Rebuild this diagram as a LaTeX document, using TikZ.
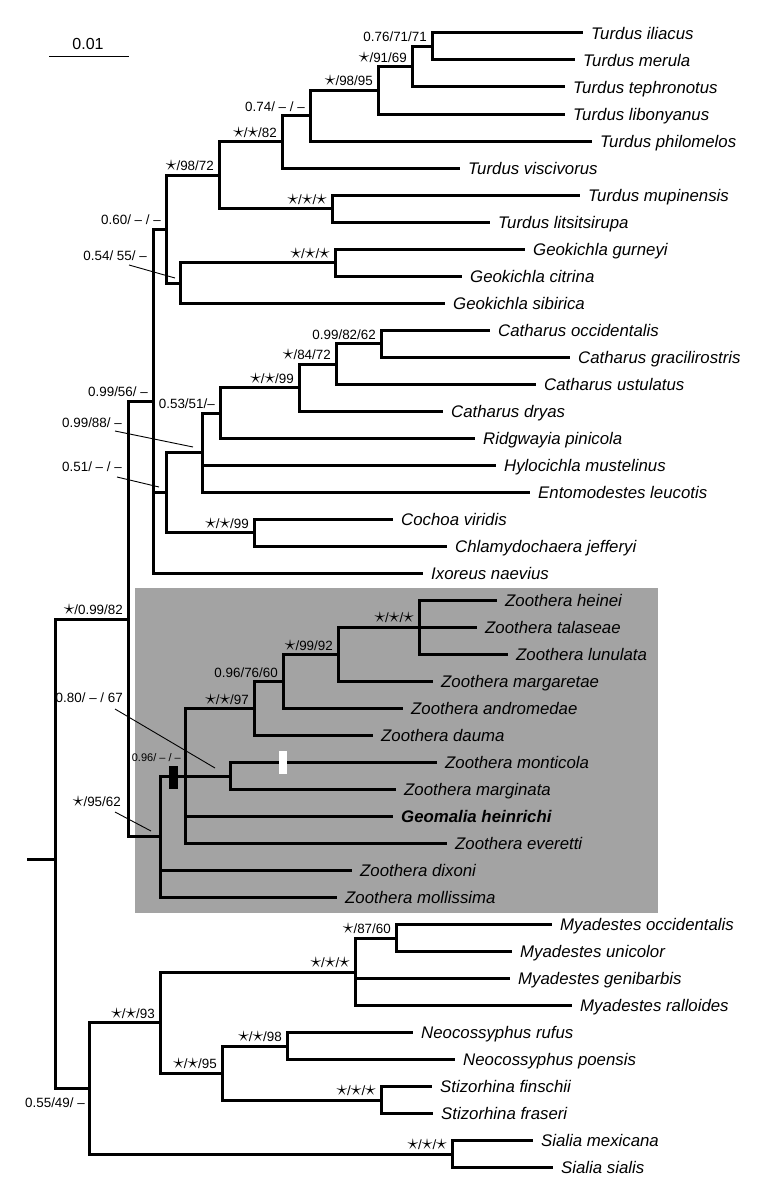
\documentclass[tikz,border=0pt]{standalone}
\usepackage{fontspec}
\setmainfont{Liberation Sans}
\definecolor{boxgray}{RGB}{163,163,163}
\newcommand{\bst}{\scalebox{1.5}{$\star$}}
\begin{document}
\begin{tikzpicture}
[x=1pt, y=-1pt,
 br/.style={line width=3pt},
 lead/.style={line width=0.9pt},
 leaf/.style={anchor=west, inner xsep=8pt, inner ysep=0pt, text height=12.2pt,
   text depth=0pt, font=\fontsize{16.8}{19}\selectfont\itshape},
 sup/.style={anchor=base east, inner sep=0pt, font=\fontsize{13.4}{15}\selectfont},
 bar/.style={minimum width=9pt, minimum height=23pt, inner sep=0pt}]
\useasboundingbox (0,0) rectangle (761,1182);
% shaded Zoothera clade
\fill[boxgray] (135,588) rectangle (658,913);
% scale
\coordinate (sb0) at (49,56);
\coordinate (sb1) at (129,56);
\draw[line width=0.9pt] (sb0) -- (sb1);
\node[anchor=base, font=\fontsize{16}{18}\selectfont] (scl) at (88,49.3) {0.01};
% tips
\node[leaf] (iliacus) at (583,33) {Turdus iliacus};
\node[leaf] (merula) at (575,60) {Turdus merula};
\node[leaf] (tephronotus) at (565,87) {Turdus tephronotus};
\node[leaf] (libonyanus) at (565,114.1) {Turdus libonyanus};
\node[leaf] (philomelos) at (592,141.1) {Turdus philomelos};
\node[leaf] (viscivorus) at (460,168.1) {Turdus viscivorus};
\node[leaf] (mupinensis) at (580,195.1) {Turdus mupinensis};
\node[leaf] (litsitsirupa) at (490,222.1) {Turdus litsitsirupa};
\node[leaf] (gurneyi) at (525,249.2) {Geokichla gurneyi};
\node[leaf] (citrina) at (462,276.2) {Geokichla citrina};
\node[leaf] (sibirica) at (445,303.2) {Geokichla sibirica};
\node[leaf] (catOcc) at (490,330.2) {Catharus occidentalis};
\node[leaf] (gracilirostris) at (570,357.2) {Catharus gracilirostris};
\node[leaf] (ustulatus) at (536,384.3) {Catharus ustulatus};
\node[leaf] (dryas) at (443,411.3) {Catharus dryas};
\node[leaf] (pinicola) at (475,438.3) {Ridgwayia pinicola};
\node[leaf] (mustelinus) at (496,465.3) {Hylocichla mustelinus};
\node[leaf] (leucotis) at (530,492.3) {Entomodestes leucotis};
\node[leaf] (viridis) at (393,519.4) {Cochoa viridis};
\node[leaf] (jefferyi) at (447,546.4) {Chlamydochaera jefferyi};
\node[leaf] (naevius) at (423,573.4) {Ixoreus naevius};
\node[leaf] (heinei) at (497,600.4) {Zoothera heinei};
\node[leaf] (talaseae) at (477,627.4) {Zoothera talaseae};
\node[leaf] (lunulata) at (508,654.5) {Zoothera lunulata};
\node[leaf] (margaretae) at (433,681.5) {Zoothera margaretae};
\node[leaf] (andromedae) at (403,708.5) {Zoothera andromedae};
\node[leaf] (dauma) at (373,735.5) {Zoothera dauma};
\node[leaf] (monticola) at (437,762.5) {Zoothera monticola};
\node[leaf] (marginata) at (396,789.6) {Zoothera marginata};
\node[leaf] (heinrichi) at (393,816.6) {\bfseries Geomalia heinrichi};
\node[leaf] (everetti) at (447,843.6) {Zoothera everetti};
\node[leaf] (dixoni) at (352,870.6) {Zoothera dixoni};
\node[leaf] (mollissima) at (337,897.6) {Zoothera mollissima};
\node[leaf] (myaOcc) at (552,924.7) {Myadestes occidentalis};
\node[leaf] (unicolor) at (512,951.7) {Myadestes unicolor};
\node[leaf] (genibarbis) at (510,978.7) {Myadestes genibarbis};
\node[leaf] (ralloides) at (572,1005.7) {Myadestes ralloides};
\node[leaf] (rufus) at (413,1032.7) {Neocossyphus rufus};
\node[leaf] (poensis) at (455,1059.8) {Neocossyphus poensis};
\node[leaf] (finschii) at (432,1086.8) {Stizorhina finschii};
\node[leaf] (fraseri) at (433,1113.8) {Stizorhina fraseri};
\node[leaf] (mexicana) at (533,1140.8) {Sialia mexicana};
\node[leaf] (sialis) at (553,1167.8) {Sialia sialis};
% internal nodes
\coordinate (T1) at (432,46.5);
\coordinate (T2) at (412,66.8);
\coordinate (T3) at (378,90.4);
\coordinate (T4) at (310,115.8);
\coordinate (T5) at (282,141.9);
\coordinate (T7) at (332,208.6);
\coordinate (T6) at (219,175.3);
\coordinate (G1) at (335,262.7);
\coordinate (G) at (180,283);
\coordinate (T8) at (166,229.1);
\coordinate (C5) at (381,343.7);
\coordinate (C4) at (336,364);
\coordinate (C3) at (299,387.7);
\coordinate (C2) at (220,413);
\coordinate (C1) at (202,452.6);
\coordinate (Co) at (254,532.9);
\coordinate (C0) at (166,492.8);
\coordinate (N1) at (153,401.3);
\coordinate (Z6) at (419,627.4);
\coordinate (Z5) at (338,654.5);
\coordinate (Z4) at (283,681.5);
\coordinate (Z2) at (254,708.5);
\coordinate (Z3) at (230,776);
\coordinate (Z1) at (185,776);
\coordinate (Z0) at (160,836.8);
\coordinate (N0) at (128,619);
\coordinate (M1) at (396,938.2);
\coordinate (M0) at (355,972);
\coordinate (Nn) at (287,1046.3);
\coordinate (St) at (381,1100.3);
\coordinate (S2) at (222,1073.3);
\coordinate (S1) at (160,1022.6);
\coordinate (Si) at (452,1154.3);
\coordinate (S0) at (89,1088.5);
\coordinate (R) at (55,859);
\coordinate (root) at (27,859);
% branches
\draw[br] (T1) |- (iliacus.west) (T1) |- (merula.west);
\draw[br] (T2) |- (T1) (T2) |- (tephronotus.west);
\draw[br] (T3) |- (T2) (T3) |- (libonyanus.west);
\draw[br] (T4) |- (T3) (T4) |- (philomelos.west);
\draw[br] (T5) |- (T4) (T5) |- (viscivorus.west);
\draw[br] (T7) |- (mupinensis.west) (T7) |- (litsitsirupa.west);
\draw[br] (T6) |- (T5) (T6) |- (T7);
\draw[br] (G1) |- (gurneyi.west) (G1) |- (citrina.west);
\draw[br] (G) |- (G1) (G) |- (sibirica.west);
\draw[br] (T8) |- (T6) (T8) |- (G);
\draw[br] (C5) |- (catOcc.west) (C5) |- (gracilirostris.west);
\draw[br] (C4) |- (C5) (C4) |- (ustulatus.west);
\draw[br] (C3) |- (C4) (C3) |- (dryas.west);
\draw[br] (C2) |- (C3) (C2) |- (pinicola.west);
\draw[br] (C1) |- (C2) (C1) |- (mustelinus.west) (C1) |- (leucotis.west);
\draw[br] (Co) |- (viridis.west) (Co) |- (jefferyi.west);
\draw[br] (C0) |- (C1) (C0) |- (Co);
\draw[br] (N1) |- (T8) (N1) |- (C0) (N1) |- (naevius.west);
\draw[br] (Z6) |- (heinei.west) (Z6) |- (talaseae.west) (Z6) |- (lunulata.west);
\draw[br] (Z5) |- (Z6) (Z5) |- (margaretae.west);
\draw[br] (Z4) |- (Z5) (Z4) |- (andromedae.west);
\draw[br] (Z2) |- (Z4) (Z2) |- (dauma.west);
\draw[br] (Z3) |- (monticola.west) (Z3) |- (marginata.west);
\draw[br] (Z1) |- (Z2) (Z1) -- (Z3) (Z1) |- (heinrichi.west) (Z1) |- (everetti.west);
\draw[br] (Z0) |- (Z1) (Z0) |- (dixoni.west) (Z0) |- (mollissima.west);
\draw[br] (N0) |- (N1) (N0) |- (Z0);
\draw[br] (M1) |- (myaOcc.west) (M1) |- (unicolor.west);
\draw[br] (M0) |- (M1) (M0) |- (genibarbis.west) (M0) |- (ralloides.west);
\draw[br] (Nn) |- (rufus.west) (Nn) |- (poensis.west);
\draw[br] (St) |- (finschii.west) (St) |- (fraseri.west);
\draw[br] (S2) |- (Nn) (S2) |- (St);
\draw[br] (S1) |- (M0) (S1) |- (S2);
\draw[br] (Si) |- (mexicana.west) (Si) |- (sialis.west);
\draw[br] (S0) |- (S1) (S0) |- (Si);
\draw[br] (R) |- (N0) (R) |- (S0);
\draw[br] (root) -- (R);
% marks on branches
\node[bar, fill=black] (gain) at (173.5,777.5) {};
\node[bar, fill=white, minimum width=8pt] (loss) at (282.5,762.5) {};
% support values
\node[sup] (lT1) at ([xshift=-5pt,yshift=4.5pt]T1) {0.76/71/71};
\node[sup] (lT2) at ([xshift=-5pt,yshift=4.5pt]T2) {\bst/91/69};
\node[sup] (lT3) at ([xshift=-5pt,yshift=4.5pt]T3) {\bst/98/95};
\node[sup] (lT4) at ([xshift=-5pt,yshift=4.5pt]T4) {0.74/ – / –};
\node[sup] (lT5) at ([xshift=-5pt,yshift=4.5pt]T5) {\bst/\bst/82};
\node[sup] (lT6) at ([xshift=-5pt,yshift=4.5pt]T6) {\bst/98/72};
\node[sup] (lT7) at ([xshift=-5pt,yshift=4.5pt]T7) {\bst/\bst/\bst};
\node[sup] (lT8) at ([xshift=-5pt,yshift=4.5pt]T8) {0.60/ – / –};
\node[sup] (lG1) at ([xshift=-5pt,yshift=4.5pt]G1) {\bst/\bst/\bst};
\node[sup] (lG) at (147,260.6) {0.54/ 55/ –};
\node[sup] (lN1) at ([xshift=-5pt,yshift=4.5pt]N1) {0.99/56/ –};
\node[sup] (lC1) at (122,427.6) {0.99/88/ –};
\node[sup] (lC0) at (122,471.6) {0.51/ – / –};
\node[sup] (lC2) at ([xshift=-5pt,yshift=4.5pt]C2) {0.53/51/–};
\node[sup] (lC3) at ([xshift=-5pt,yshift=4.5pt]C3) {\bst/\bst/99};
\node[sup] (lC4) at ([xshift=-5pt,yshift=4.5pt]C4) {\bst/84/72};
\node[sup] (lC5) at ([xshift=-5pt,yshift=4.5pt]C5) {0.99/82/62};
\node[sup] (lCo) at ([xshift=-5pt,yshift=4.5pt]Co) {\bst/\bst/99};
\node[sup] (lN0) at ([xshift=-5pt,yshift=4.5pt]N0) {\bst/0.99/82};
\node[sup] (lZ6) at ([xshift=-5pt,yshift=4.5pt]Z6) {\bst/\bst/\bst};
\node[sup] (lZ5) at ([xshift=-5pt,yshift=4.5pt]Z5) {\bst/99/92};
\node[sup] (lZ4) at ([xshift=-5pt,yshift=4.5pt]Z4) {0.96/76/60};
\node[sup] (lZ2) at ([xshift=-5pt,yshift=4.5pt]Z2) {\bst/\bst/97};
\node[sup] (lZ3) at (123,702.6) {0.80/ – / 67};
\node[sup, font=\fontsize{11}{13}\selectfont] (lZ1) at (181,761) {0.96/ – / –};
\node[sup] (lZ0) at (121,806.6) {\bst/95/62};
\node[sup] (lM1) at ([xshift=-5pt,yshift=4.5pt]M1) {\bst/87/60};
\node[sup] (lM0) at ([xshift=-5pt,yshift=4.5pt]M0) {\bst/\bst/\bst};
\node[sup] (lNn) at ([xshift=-5pt,yshift=4.5pt]Nn) {\bst/\bst/98};
\node[sup] (lSt) at ([xshift=-5pt,yshift=4.5pt]St) {\bst/\bst/\bst};
\node[sup] (lS2) at ([xshift=-5pt,yshift=4.5pt]S2) {\bst/\bst/95};
\node[sup] (lS1) at ([xshift=-5pt,yshift=4.5pt]S1) {\bst/\bst/93};
\node[sup] (lSi) at ([xshift=-5pt,yshift=4.5pt]Si) {\bst/\bst/\bst};
\node[sup] (lS0) at (85,1107.6) {0.55/49/ –};
% leaders to small nodes
\coordinate (pG) at (175,278);
\coordinate (pC1) at (193,447);
\coordinate (pC0) at (159,487);
\coordinate (pZ3) at (215,768);
\coordinate (pZ0) at (151,831);
\draw[lead] ([shift={(-18pt,-4.4pt)}]lG.base east) -- (pG);
\draw[lead] ([shift={(-7pt,-3.4pt)}]lC1.base east) -- (pC1);
\draw[lead] ([shift={(-5pt,-5.4pt)}]lC0.base east) -- (pC0);
\draw[lead] ([shift={(-8pt,-6.4pt)}]lZ3.base east) -- (pZ3);
\draw[lead] ([shift={(-6pt,-5.4pt)}]lZ0.base east) -- (pZ0);
\end{tikzpicture}
\end{document}
